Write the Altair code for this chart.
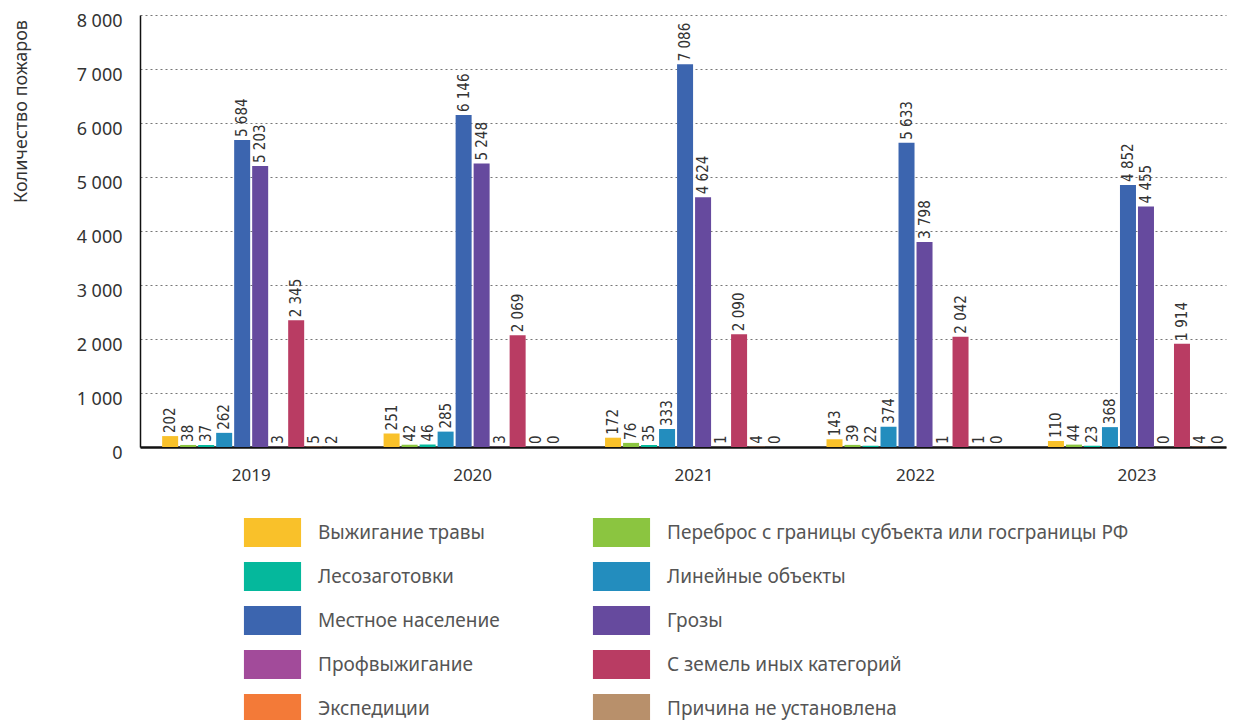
import altair as alt
import pandas as pd

years = ["2019", "2020", "2021", "2022", "2023"]
causes = [
    "Выжигание травы",
    "Переброс с границы субъекта или госграницы РФ",
    "Лесозаготовки",
    "Линейные объекты",
    "Местное население",
    "Грозы",
    "Профвыжигание",
    "С земель иных категорий",
    "Экспедиции",
    "Причина не установлена",
]
colors = ["#F9C12A", "#8BC540", "#05B89C", "#238DBE", "#3C65AF",
          "#664A9E", "#A24B9A", "#B93C63", "#F37A38", "#B8906B"]

grass = [202, 251, 172, 143, 110]
border = [38, 42, 76, 39, 44]
logging = [37, 46, 35, 22, 23]
linear = [262, 285, 333, 374, 368]
local = [5684, 6146, 7086, 5633, 4852]
storms = [5203, 5248, 4624, 3798, 4455]
prof = [3, 3, 1, 1, 0]
other_lands = [2345, 2069, 2090, 2042, 1914]
expeditions = [5, 0, 4, 1, 4]
unknown = [2, 0, 0, 0, 0]

series = [grass, border, logging, linear, local, storms, prof, other_lands, expeditions, unknown]

rows = []
for cause, vals in zip(causes, series):
    for yr, v in zip(years, vals):
        rows.append({"year": yr, "cause": cause, "value": v})
df = pd.DataFrame(rows)

x_enc = alt.X("year:N", sort=years,
              scale=alt.Scale(paddingInner=0.196, paddingOuter=0.05, align=1),
              axis=alt.Axis(title=None, labelAngle=0, labelFontSize=17, labelColor="#333",
                            labelFont="Noto Sans", labelPadding=20, ticks=False,
                            domainColor="#111", domainWidth=2.5, grid=False))
xoff = alt.XOffset("cause:N", sort=causes,
                   scale=alt.Scale(paddingInner=0.111, paddingOuter=0))
y_enc = alt.Y("value:Q",
              scale=alt.Scale(domain=[0, 8000], nice=False),
              axis=alt.Axis(title="Количество пожаров", values=list(range(0, 8001, 1000)),
                            labelExpr="replace(format(datum.value, ','), ',', ' ')",
                            labelFontSize=18, labelColor="#333", labelFont="Noto Sans",
                            labelPadding=18, labelOffset=6, ticks=False,
                            domainColor="#111", domainWidth=1.5,
                            grid=True, gridDash=[2, 3], gridColor="#777", gridWidth=1,
                            titleFontSize=18, titleFont="Noto Sans", titleColor="#333",
                            titleFontWeight="normal", titleAngle=270,
                            titleX=-119, titleY=96, titleAlign="center",
                            titleBaseline="middle"))

bars = alt.Chart(df).mark_bar().encode(
    x=x_enc,
    xOffset=xoff,
    y=y_enc,
    color=alt.Color("cause:N", sort=causes,
                    scale=alt.Scale(domain=causes, range=colors),
                    legend=alt.Legend(title=None, orient="none", legendX=118, legendY=503,
                                      columns=2, direction="horizontal",
                                      symbolType="M-1.97,-1H1.97V1H-1.97Z", symbolSize=841,
                                      symbolStrokeWidth=0, symbolOpacity=1,
                                      labelFontSize=19, labelColor="#555", labelFont="Noto Sans",
                                      labelOffset=31, labelLimit=700,
                                      rowPadding=15, columnPadding=92)),
)

labels = alt.Chart(df).transform_calculate(
    lbl="replace(format(datum.value, ','), ',', ' ')"
).mark_text(angle=270, align="left", baseline="middle", dx=3,
            fontSize=15, font="DejaVu Sans Condensed", color="#333").encode(
    x=alt.X("year:N", sort=years),
    xOffset=alt.XOffset("cause:N", sort=causes),
    y=alt.Y("value:Q"),
    text="lbl:N",
)

chart = alt.layer(bars, labels).properties(
    width=1086, height=432,
    autosize=alt.AutoSizeParams(type="none"),
    padding={"left": 132, "top": 7, "right": 6, "bottom": 273},
    background="white",
).configure_view(stroke=None)

chart.save("out.html", embed_options={"renderer": "svg", "actions": False})
